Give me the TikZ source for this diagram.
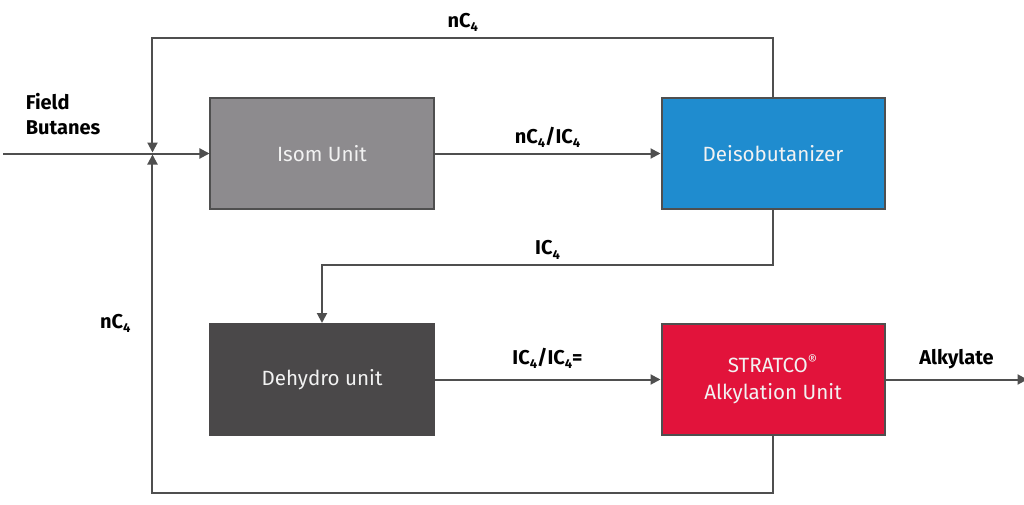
\documentclass[tikz,border=0pt]{standalone}
\usepackage{fontspec}
\setmainfont{Fira Sans}
\usetikzlibrary{arrows.meta}
\usetikzlibrary{calc}
\usetikzlibrary{positioning}

\definecolor{linegray}{HTML}{4F4F4F}
\definecolor{isomgray}{HTML}{8D8B8E}
\definecolor{deisoblue}{HTML}{1F8CCF}
\definecolor{dehydrogray}{HTML}{4A4849}
\definecolor{stratcored}{HTML}{E2133B}
\newcommand{\csub}[1]{\raisebox{-0.4ex}{\fontsize{6.5}{6.5}\selectfont #1}}

\begin{document}
\begin{tikzpicture}[x=1pt,y=1pt,
        unit/.style={draw=linegray, line width=1pt, minimum width=111.5pt, minimum height=55.5pt,
            text=white!95!black, align=center, font=\fontsize{10.3}{13.5}\selectfont},
        lbl/.style={inner sep=2.5pt, font=\fontsize{10}{12.5}\selectfont\bfseries},
        flow/.style={draw=linegray, line width=1pt},
        >={Triangle[length=5pt,width=5pt]}]
        \useasboundingbox (-161,76.75) rectangle (351,-175.25);
        % process units
        \node[unit, fill=isomgray] (isom) {Isom Unit};
        \node[unit, fill=deisoblue, right=113pt of isom] (deiso) {Deisobutanizer};
        \node[unit, fill=dehydrogray, draw=dehydrogray, below=56.5pt of isom] (dehydro) {Dehydro unit};
        \node[unit, fill=stratcored, right=113pt of dehydro] (stratco) {STRATCO\textsuperscript{®}\\Alkylation Unit};

        \coordinate[left=28.5pt of isom.west] (junc);
        \coordinate[left=103pt of isom.west] (feed);
        \coordinate[right=71pt of stratco.east] (product);

        \node[lbl, inner sep=0pt, align=left, above right=9pt and 11pt of feed] (fieldlbl) {Field\\Butanes};

        % streams
        \draw[flow, ->] (feed) -- (isom.west);
        \draw[flow, ->] (isom) -- node[lbl, above] {nC\csub{4}/IC\csub{4}} (deiso);
        \draw[flow, ->, shorten >=0.5pt] (deiso.north) -- ++(0,29.5) -| node[lbl, above, pos=0.25] {nC\csub{4}} (junc);
        \draw[flow, ->] (deiso.south) -- ++(0,-27.5) -| node[lbl, above, pos=0.25] {IC\csub{4}} (dehydro.north);
        \draw[flow, ->] (dehydro) -- node[lbl, above=2.5pt] {IC\csub{4}/IC\csub{4}=} (stratco);
        \draw[flow, ->] (stratco) -- node[lbl, above=2.5pt] {Alkylate} (product);
        \draw[flow, ->, shorten >=0.5pt] (stratco.south) -- ++(0,-28.5) -| node[lbl, left=8pt, pos=0.75] {nC\csub{4}} (junc);
    \end{tikzpicture}
\end{document}
